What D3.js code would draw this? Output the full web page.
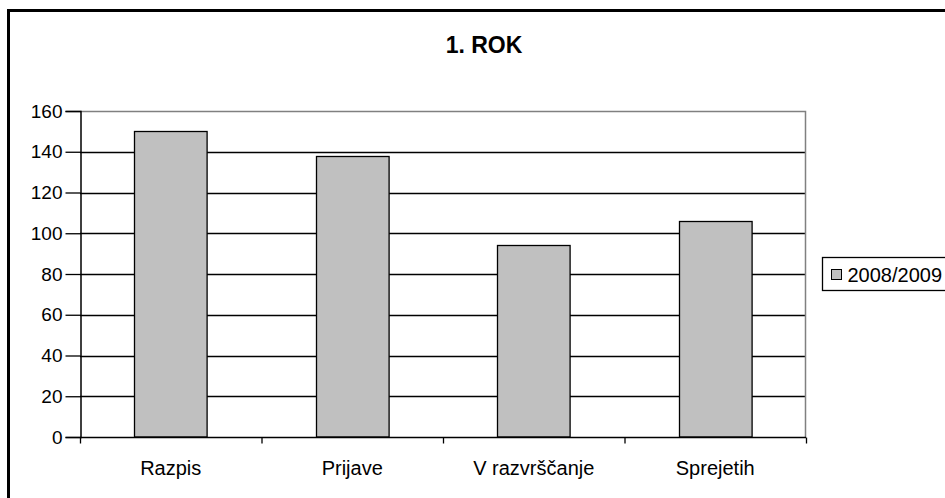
<!DOCTYPE html>
<html>
<head>
<meta charset="utf-8">
<script src="https://cdn.jsdelivr.net/npm/d3@7"></script>
<style>
  body { margin: 0; background: #fff; }
  svg { display: block; font-family: Arial, "Liberation Sans", sans-serif; }
</style>
</head>
<body>
<script>
// Chart values
const categories = ['Razpis', 'Prijave', 'V razvrščanje', 'Sprejetih'];
const values = [150, 138, 94, 106];
const yTicks = [0, 20, 40, 60, 80, 100, 120, 140, 160];
const seriesName = '2008/2009';
const title = '1. ROK';

const width = 945, height = 498;
// plot area in pixels
const plot = { left: 80, right: 806, top: 111, bottom: 437 };

const svg = d3.select('body').append('svg')
    .attr('width', width)
    .attr('height', height);

svg.append('rect')
    .attr('width', width).attr('height', height)
    .style('fill', '#fff');

// outer chart border (runs off the right and bottom edge)
svg.append('rect')
    .attr('x', 8.5).attr('y', 10.5)
    .attr('width', 980).attr('height', 520)
    .style('fill', 'none')
    .style('stroke', '#000')
    .style('stroke-width', 3);

svg.append('text')
    .attr('x', 484).attr('y', 53)
    .attr('text-anchor', 'middle')
    .style('font-size', '23px')
    .style('font-weight', 'bold')
    .text(title);

let x = d3.scaleBand()
    .domain(categories)
    .range([plot.left, plot.right])
    .paddingInner(0.6)
    .paddingOuter(0.3);

let y = d3.scaleLinear()
    .domain([0, 160])
    .range([plot.bottom, plot.top]);

// gridlines
svg.append('g')
    .selectAll('line')
    .data(yTicks.filter(d => d > 0 && d < 160))
    .join('line')
        .attr('x1', plot.left).attr('x2', plot.right)
        .attr('y1', d => Math.round(y(d)) + 0.5)
        .attr('y2', d => Math.round(y(d)) + 0.5)
        .style('stroke', '#000')
        .style('stroke-width', 1.3);

// plot area top/right border in gray
svg.append('path')
    .attr('d', `M${plot.left},${plot.top + 0.5}H${plot.right - 0.5}V${plot.bottom}`)
    .style('fill', 'none')
    .style('stroke', '#808080')
    .style('stroke-width', 1.5);

// bars
svg.append('g')
    .selectAll('rect')
    .data(values)
    .join('rect')
        .attr('x', (d, i) => Math.round(x(categories[i])) + 0.5)
        .attr('y', d => Math.round(y(d)) + 0.5)
        .attr('width', x.bandwidth())
        .attr('height', d => y(0) - Math.round(y(d)) - 0.5)
        .style('fill', '#c0c0c0')
        .style('stroke', '#000')
        .style('stroke-width', 1.3);

// y axis
let yAxis = svg.append('g')
    .attr('transform', `translate(${plot.left + 0.5},0)`)
    .call(d3.axisLeft(y).tickValues(yTicks).tickSize(15).tickPadding(3));
yAxis.attr('font-family', null).attr('font-size', null);
yAxis.select('.domain').style('stroke', '#000').style('stroke-width', 1.5);
yAxis.selectAll('.tick line').style('stroke', '#000').style('stroke-width', 1.3);
yAxis.selectAll('.tick text')
    .style('font-size', '19px')
    .style('fill', '#000');

// x axis with ticks at the category boundaries
let step = x.step();
let xAxis = svg.append('g')
    .attr('transform', `translate(0,${plot.bottom + 0.5})`);
xAxis.append('line')
    .attr('x1', plot.left).attr('x2', plot.right)
    .style('stroke', '#000').style('stroke-width', 1.5);
xAxis.selectAll('.bt')
    .data(d3.range(categories.length + 1))
    .join('line')
        .attr('class', 'bt')
        .attr('x1', i => plot.left + i * step + 0.5)
        .attr('x2', i => plot.left + i * step + 0.5)
        .attr('y1', 0).attr('y2', 6)
        .style('stroke', '#000').style('stroke-width', 1.3);
xAxis.selectAll('.lbl')
    .data(categories)
    .join('text')
        .attr('class', 'lbl')
        .attr('x', d => x(d) + x.bandwidth() / 2)
        .attr('y', 37)
        .attr('text-anchor', 'middle')
        .style('font-size', '20px')
        .text(d => d);

// legend
let legend = svg.append('g').attr('transform', 'translate(822.5,257.5)');
legend.append('rect')
    .attr('width', 140).attr('height', 33)
    .style('fill', '#fff')
    .style('stroke', '#000')
    .style('stroke-width', 1.3);
legend.append('rect')
    .attr('x', 9).attr('y', 12)
    .attr('width', 10).attr('height', 10)
    .style('fill', '#c0c0c0')
    .style('stroke', '#000');
legend.append('text')
    .attr('x', 25).attr('y', 24)
    .style('font-size', '20px')
    .text(seriesName);
</script>
</body>
</html>
